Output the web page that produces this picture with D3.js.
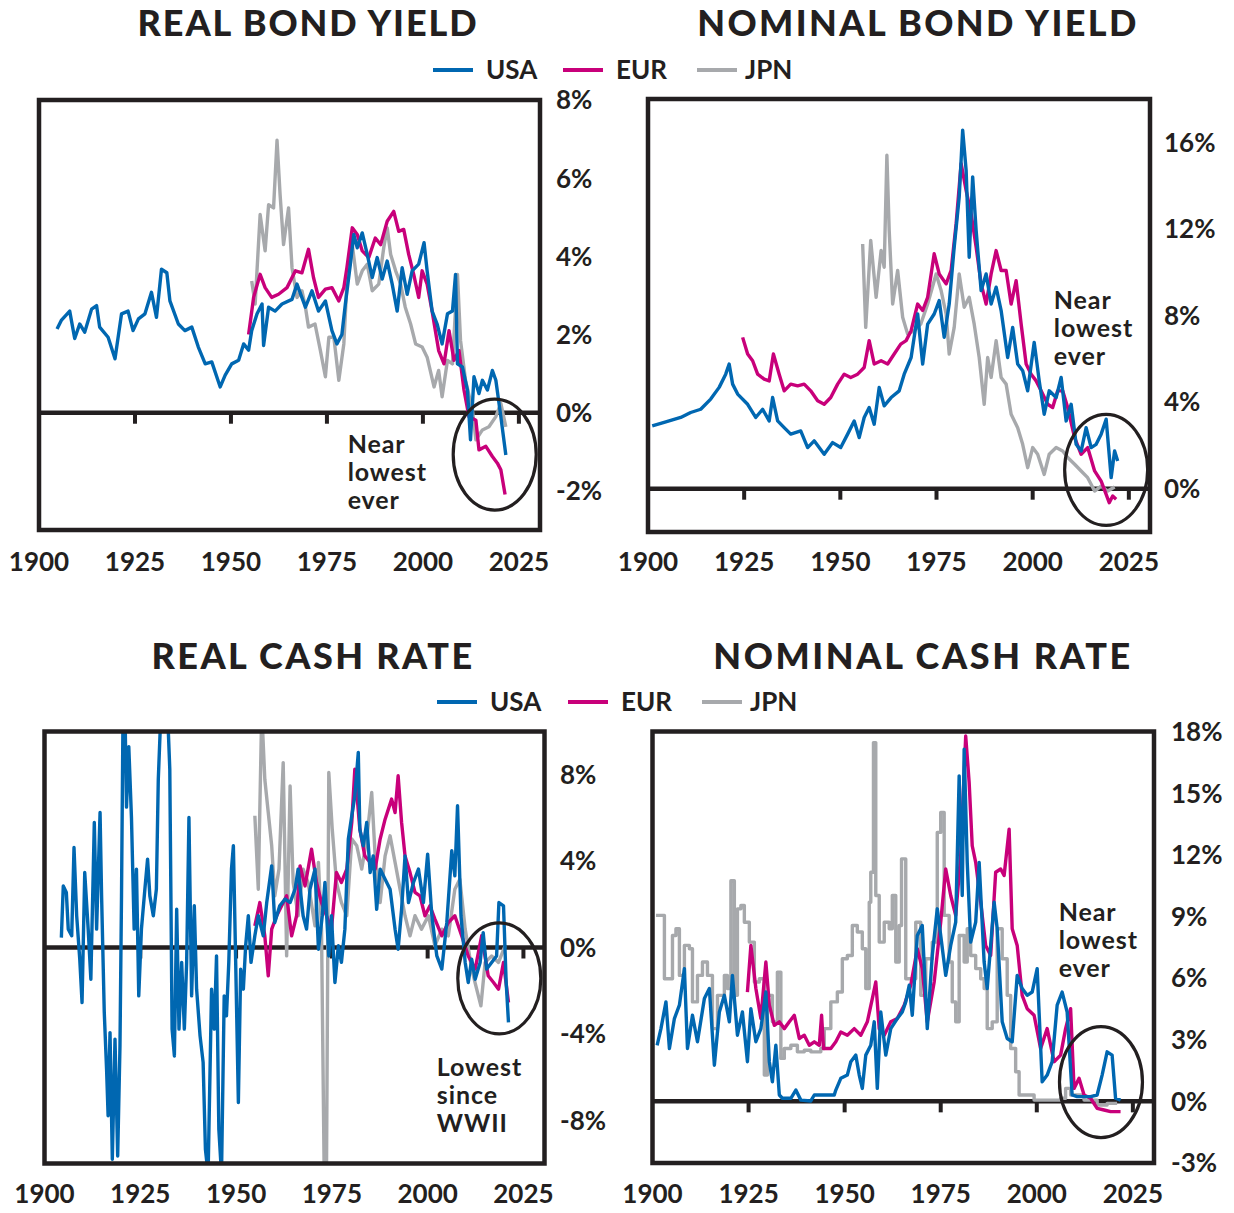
<!DOCTYPE html>
<html><head><meta charset="utf-8">
<script src="https://cdn.jsdelivr.net/npm/d3@7"></script>
<style>
html,body{margin:0;padding:0;background:#fff;}
svg{display:block;}
text{font-family:Lato,'Open Sans',sans-serif;fill:#231f20;}
</style></head><body>
<svg id="chart" width="1234" height="1213"></svg>
<script>
// ---------- DATA ----------
const seriesNames = ["USA","EUR","JPN"];
const xTickYears = [1925,1950,1975,2000,2025];
const xLabelYears = [1900,1925,1950,1975,2000,2025];
const realBondTicks = [-2,0,2,4,6,8];
const nomBondTicks = [0,4,8,12,16];
const realCashTicks = [-8,-4,0,4,8];
const nomCashTicks = [-3,0,3,6,9,12,15,18];

const realBondUSA = [[1904.7,2.14],[1905.8,2.36],[1908.0,2.6],[1909.3,1.9],[1910.6,2.27],[1911.9,2.06],[1913.7,2.65],[1915.0,2.74],[1915.8,2.19],[1918.0,1.93],[1919.8,1.38],[1921.5,2.53],[1923.2,2.6],[1924.5,2.1],[1925.9,2.4],[1927.6,2.53],[1929.3,3.08],[1930.6,2.44],[1931.9,3.67],[1933.3,3.58],[1934.1,2.86],[1936.3,2.27],[1938.0,2.1],[1939.8,2.19],[1941.5,1.68],[1943.3,1.25],[1945.0,1.3],[1947.2,0.66],[1948.5,0.96],[1950.2,1.25],[1952.0,1.34],[1953.3,1.76],[1954.6,1.6],[1955.4,2.1],[1956.8,2.53],[1958.1,2.78],[1958.5,1.72],[1959.8,2.7],[1961.5,2.6],[1963.3,2.78],[1965.9,2.9],[1967.2,3.29],[1969.4,2.7],[1971.1,3.12],[1972.8,2.6],[1974.6,2.86],[1976.3,2.1],[1977.6,1.76],[1978.9,2.0],[1979.8,2.78],[1981.1,3.8],[1982.0,4.56],[1982.9,4.22],[1984.2,4.6],[1985.5,4.05],[1986.8,3.46],[1988.1,3.97],[1989.4,3.42],[1990.7,3.88],[1992.0,3.29],[1993.3,2.6],[1994.6,3.71],[1995.9,3.03],[1997.2,3.63],[1998.9,3.8],[2000.3,4.35],[2001.1,3.63],[2002.4,2.6],[2003.7,2.27],[2005.0,1.76],[2006.4,2.53],[2007.7,2.6],[2008.5,3.54],[2009.0,1.25],[2010.3,1.17],[2011.6,0.58],[2012.4,-0.69],[2013.3,0.92],[2014.6,0.49],[2015.5,0.83],[2016.8,0.58],[2018.1,1.08],[2019.0,0.83],[2020.3,-0.1],[2021.6,-1.08]];
const realBondEUR = [[1954.6,2.0],[1955.9,2.95],[1957.6,3.54],[1958.9,3.2],[1960.6,2.95],[1962.4,3.03],[1964.6,3.2],[1966.8,3.63],[1968.5,3.58],[1970.2,4.18],[1971.5,3.46],[1972.8,2.95],[1974.6,3.16],[1976.3,3.2],[1978.1,2.86],[1979.4,3.2],[1980.2,3.71],[1981.6,4.73],[1982.9,4.56],[1984.2,4.14],[1985.9,3.97],[1987.6,4.47],[1989.0,4.3],[1990.7,4.9],[1992.4,5.15],[1993.7,4.64],[1995.0,4.69],[1996.3,4.05],[1997.6,3.54],[1998.9,2.95],[1999.8,3.63],[2001.1,3.29],[2002.4,2.6],[2004.1,1.59],[2005.5,1.25],[2006.8,2.1],[2008.1,1.34],[2009.4,1.59],[2010.7,0.58],[2012.0,-0.1],[2013.8,-0.19],[2014.6,-0.95],[2016.4,-0.86],[2018.1,-1.12],[2019.4,-1.29],[2020.3,-1.46],[2021.4,-2.09]];
const realBondJPN = [[1955.4,3.37],[1956.3,2.78],[1957.6,5.07],[1958.9,4.14],[1959.8,5.32],[1961.1,5.24],[1962.0,6.97],[1962.8,5.58],[1963.7,4.3],[1965.0,5.24],[1965.9,3.71],[1967.2,2.95],[1968.5,3.12],[1969.4,2.7],[1970.2,2.19],[1971.9,2.27],[1973.3,1.59],[1974.6,0.92],[1975.5,1.93],[1976.8,1.93],[1978.1,0.83],[1979.4,1.76],[1980.2,3.29],[1981.6,4.3],[1982.9,3.29],[1984.2,3.63],[1985.5,3.8],[1986.8,3.12],[1988.5,3.29],[1989.8,4.22],[1990.7,4.73],[1991.6,4.05],[1992.9,3.63],[1994.2,3.29],[1995.4,2.7],[1996.8,2.27],[1998.1,1.76],[1999.8,1.68],[2001.1,1.42],[2002.9,0.66],[2004.1,1.08],[2005.0,0.41],[2006.4,1.34],[2007.7,1.25],[2009.0,3.54],[2009.8,1.85],[2011.1,0.83],[2012.9,0.07],[2013.8,-0.69],[2015.5,-0.44],[2017.2,-0.36],[2019.0,-0.1],[2020.3,0.24],[2021.6,-0.36]];

const nomBondUSA = [[1901.1,2.9],[1904.2,3.06],[1908.5,3.29],[1911.1,3.52],[1913.7,3.67],[1916.3,4.14],[1918.5,4.68],[1920.2,5.29],[1921.1,5.76],[1922.0,4.83],[1923.3,4.37],[1925.9,3.9],[1928.0,3.29],[1929.8,3.67],[1931.5,3.13],[1932.4,4.21],[1933.7,3.13],[1935.4,2.82],[1937.1,2.52],[1939.7,2.67],[1941.5,1.9],[1943.2,2.21],[1945.8,1.59],[1948.0,2.13],[1950.1,1.9],[1951.9,2.52],[1953.6,3.13],[1954.9,2.36],[1956.2,3.29],[1957.5,3.75],[1958.8,2.98],[1960.1,4.68],[1961.4,3.83],[1963.2,4.21],[1965.3,4.52],[1966.6,5.29],[1968.4,6.06],[1970.1,8.07],[1971.4,5.76],[1972.7,7.6],[1974.4,8.07],[1975.7,8.69],[1977.0,6.99],[1978.3,8.53],[1979.6,11.16],[1980.9,13.47],[1981.8,16.56],[1982.7,14.71],[1983.5,10.69],[1984.4,14.4],[1985.3,11.93],[1986.6,9.15],[1987.9,9.92],[1989.2,8.53],[1990.5,9.31],[1991.8,8.23],[1993.5,6.06],[1994.8,7.45],[1996.1,5.76],[1997.4,5.45],[1998.7,4.52],[2000.4,6.76],[2001.7,4.98],[2003.0,3.44],[2004.3,4.52],[2006.1,4.21],[2007.4,5.14],[2008.7,3.13],[2010.0,3.9],[2011.3,2.05],[2012.6,1.74],[2013.9,2.82],[2015.2,1.9],[2016.5,2.05],[2017.8,2.52],[2019.1,3.21],[2020.4,0.51],[2021.3,1.74],[2022.1,1.28]];
const nomBondEUR = [[1924.6,6.99],[1925.9,6.22],[1927.2,5.91],[1928.5,5.29],[1930.2,5.06],[1931.5,4.98],[1932.6,6.22],[1934.1,5.29],[1935.4,4.52],[1937.1,4.83],[1938.9,4.75],[1940.6,4.83],[1942.3,4.52],[1944.1,4.06],[1945.8,3.9],[1947.5,4.21],[1949.3,4.83],[1951.0,5.29],[1952.7,5.14],[1954.5,5.29],[1956.2,5.6],[1957.5,6.84],[1958.8,5.76],[1960.6,5.91],[1962.3,5.76],[1964.0,6.22],[1965.7,6.68],[1967.1,6.84],[1968.4,7.3],[1970.1,8.53],[1971.4,8.23],[1972.7,8.84],[1974.4,10.85],[1975.7,9.92],[1977.5,9.46],[1978.8,10.08],[1980.1,12.24],[1981.4,15.02],[1982.7,13.78],[1984.0,12.7],[1985.3,11.16],[1986.6,9.46],[1987.9,8.53],[1989.2,9.92],[1990.5,11.0],[1991.8,10.08],[1993.1,10.08],[1994.4,8.53],[1995.7,9.61],[1997.0,7.61],[1998.3,5.76],[1999.6,5.29],[2000.9,4.98],[2002.2,4.52],[2003.9,3.9],[2005.2,3.75],[2006.5,4.52],[2007.8,4.52],[2009.1,3.75],[2010.9,2.36],[2012.6,1.59],[2014.3,1.9],[2016.1,0.82],[2017.8,0.35],[2019.1,-0.26],[2019.9,-0.65],[2020.8,-0.34],[2021.7,-0.49]];
const nomBondJPN = [[1955.8,11.3],[1956.6,7.45],[1957.9,11.47],[1959.3,8.84],[1960.6,11.0],[1961.4,10.23],[1962.1,15.4],[1962.7,11.93],[1963.6,8.53],[1964.9,10.08],[1966.2,7.92],[1967.5,7.14],[1969.2,7.3],[1970.9,7.6],[1972.7,8.53],[1974.9,9.92],[1976.2,9.15],[1977.5,8.07],[1978.3,6.22],[1979.6,7.45],[1980.9,9.92],[1982.2,8.38],[1983.5,8.84],[1984.8,7.6],[1986.1,6.06],[1987.4,3.9],[1988.3,6.06],[1989.2,5.14],[1990.5,6.84],[1991.8,5.14],[1993.1,4.83],[1994.4,3.44],[1996.1,2.82],[1997.4,2.05],[1998.7,0.97],[2000.0,1.9],[2001.3,1.59],[2003.0,0.66],[2004.3,1.59],[2006.1,1.9],[2007.8,1.74],[2009.1,1.44],[2010.9,1.13],[2012.6,0.82],[2014.3,0.51],[2016.1,-0.11],[2017.8,0.12],[2019.5,-0.11],[2021.3,0.08]];

const realCashUSA = [[1904.4,0.46],[1904.9,2.85],[1905.7,2.55],[1906.2,0.85],[1907.1,0.54],[1907.7,4.63],[1908.4,1.47],[1909.2,-0.54],[1909.8,-2.55],[1910.5,3.47],[1911.4,0.85],[1912.1,-1.47],[1913.0,5.79],[1913.6,0.85],[1914.5,6.25],[1914.9,2.39],[1915.6,-3.0],[1916.2,-5.63],[1916.6,-7.79],[1917.1,-3.94],[1917.7,-9.8],[1918.4,-4.24],[1919.1,-9.65],[1919.7,-4.55],[1920.1,2.39],[1920.5,11],[1921.0,11],[1921.4,6.5],[1922.0,9.3],[1922.7,6.0],[1923.4,0.85],[1924.0,3.63],[1924.6,-2.24],[1925.3,0.85],[1926.2,2.7],[1926.9,4.09],[1927.5,2.39],[1928.4,1.47],[1929.2,2.7],[1929.7,7.79],[1930.4,11],[1931.4,12],[1932.1,11],[1932.7,8.26],[1933.3,-3.78],[1933.9,-5.02],[1934.5,1.77],[1935.1,-3.78],[1935.8,-0.69],[1936.5,-3.78],[1937.1,-0.69],[1937.7,6.02],[1938.4,-2.24],[1939.1,1.93],[1939.7,-1.93],[1940.6,-4.09],[1941.4,-5.32],[1942.0,-9.34],[1942.7,-10.5],[1943.6,-1.93],[1944.3,-3.78],[1944.9,-0.39],[1945.5,-8.41],[1946.2,-10.5],[1946.9,-2.24],[1947.5,-3.16],[1948.1,-0.69],[1948.8,3.63],[1949.3,4.71],[1949.9,-0.69],[1950.6,-7.18],[1951.2,-1.0],[1951.9,-1.93],[1952.5,0.08],[1953.2,1.47],[1953.9,-0.69],[1954.9,0.54],[1955.8,1.47],[1957.1,0.54],[1958.0,2.08],[1959.3,3.78],[1960.1,1.16],[1961.4,1.93],[1962.8,2.24],[1964.1,2.08],[1965.4,2.7],[1966.2,3.63],[1967.5,1.47],[1968.4,0.85],[1969.3,2.7],[1970.6,3.63],[1971.5,-0.08],[1972.5,1.47],[1973.2,3.01],[1974.2,-0.39],[1974.9,1.47],[1975.8,-1.62],[1976.7,0.08],[1977.5,-0.69],[1978.4,0.85],[1979.3,5.02],[1980.2,6.1],[1981.0,7.02],[1981.9,9.03],[1982.3,5.48],[1983.2,4.71],[1984.1,5.79],[1985.0,3.47],[1985.8,4.24],[1986.7,1.77],[1987.6,3.63],[1988.9,3.16],[1990.2,2.7],[1991.5,0.85],[1992.3,-0.08],[1993.2,1.77],[1994.1,4.24],[1995.0,2.08],[1996.3,3.01],[1997.6,3.63],[1998.9,2.08],[2000.0,4.32],[2001.1,1.47],[2002.4,-0.39],[2003.7,-1.0],[2005.0,1.16],[2006.3,4.48],[2007.1,3.32],[2007.8,6.56],[2008.7,1.47],[2009.8,-0.69],[2010.6,-1.62],[2011.5,-0.54],[2012.4,-1.47],[2013.7,-0.69],[2014.5,0.69],[2015.4,-1.0],[2016.7,-0.69],[2018.0,-0.39],[2018.6,2.08],[2019.8,1.93],[2020.5,-1.62],[2021.1,-3.47]];
const realCashEUR = [[1954.9,1.0],[1956.2,2.08],[1957.5,0.54],[1958.4,-1.31],[1959.3,0.85],[1960.6,1.47],[1961.9,1.93],[1963.2,2.39],[1964.5,0.54],[1965.8,1.47],[1966.7,3.78],[1968.0,2.85],[1969.7,4.55],[1971.0,3.01],[1972.3,2.08],[1973.6,1.47],[1974.9,0.85],[1976.2,3.47],[1977.5,3.01],[1978.9,3.63],[1980.2,5.79],[1981.0,8.26],[1982.3,5.48],[1983.6,4.24],[1985.0,3.94],[1986.3,3.63],[1987.6,5.02],[1988.9,5.94],[1990.6,6.87],[1991.5,6.25],[1992.3,7.95],[1993.2,5.79],[1994.1,4.24],[1995.4,3.47],[1996.7,2.55],[1998.0,2.39],[1999.3,1.47],[2000.6,1.93],[2001.9,1.31],[2003.7,0.54],[2005.4,1.16],[2007.1,1.47],[2008.9,0.54],[2010.6,-0.39],[2012.4,-1.0],[2014.1,0.54],[2015.8,-1.31],[2017.2,-1.62],[2018.5,-1.93],[2019.8,-0.69],[2021.1,-2.55]];
const realCashJPN = [[1954.9,6.1],[1955.8,2.7],[1956.7,11],[1957.5,7.79],[1958.4,6.25],[1959.3,4.71],[1960.1,2.39],[1961.2,3.63],[1962.3,8.56],[1963.2,-0.39],[1964.1,7.48],[1964.9,3.01],[1966.2,1.47],[1967.5,3.63],[1968.8,3.01],[1970.6,1.0],[1971.5,3.94],[1972.3,0.85],[1973.0,-10.5],[1973.6,-10.5],[1974.2,8.1],[1975.1,5.48],[1976.2,3.01],[1977.5,2.08],[1978.9,1.47],[1980.2,5.02],[1981.5,4.71],[1982.8,3.63],[1984.1,5.02],[1985.4,7.18],[1986.3,4.24],[1987.6,2.08],[1988.9,4.24],[1990.2,5.17],[1991.5,3.94],[1992.8,2.7],[1994.1,1.47],[1995.4,0.54],[1996.7,1.47],[1998.4,0.85],[2000.2,1.47],[2001.9,0.08],[2003.7,0.85],[2005.4,0.54],[2007.1,2.7],[2008.4,3.16],[2009.8,0.85],[2011.5,-1.0],[2012.8,-1.93],[2013.9,-2.7],[2015.0,-0.69],[2016.7,-0.39],[2018.5,-0.69],[2020.2,0.08]];

const nomCashUSA = [[1901.2,2.73],[1902.2,3.54],[1903.5,4.84],[1904.4,2.57],[1905.7,4.03],[1907.0,4.68],[1908.3,6.46],[1909.1,2.57],[1910.4,4.19],[1911.7,2.9],[1913.5,5.0],[1914.8,5.49],[1916.1,1.76],[1917.4,4.35],[1918.7,5.16],[1920.0,3.87],[1920.8,6.13],[1922.1,3.22],[1923.4,4.35],[1924.7,1.93],[1925.6,4.51],[1926.9,2.9],[1928.2,3.54],[1929.5,5.32],[1930.4,1.93],[1931.2,0.95],[1932.1,2.73],[1933.0,0.31],[1933.8,0.15],[1936.0,0.15],[1937.3,0.55],[1938.6,0.06],[1941.2,0.02],[1942.1,0.31],[1947.3,0.31],[1947.7,0.55],[1949.0,1.12],[1950.7,1.28],[1951.6,1.93],[1952.9,2.25],[1953.8,1.28],[1954.6,0.63],[1955.5,2.25],[1956.8,2.73],[1957.7,3.87],[1958.5,0.63],[1959.4,4.35],[1960.7,2.25],[1962.0,3.54],[1963.7,4.03],[1965.0,4.35],[1965.9,4.84],[1966.8,5.65],[1967.6,4.19],[1968.9,8.07],[1970.2,8.56],[1971.5,3.54],[1972.8,7.1],[1974.1,9.37],[1975.0,8.07],[1976.3,6.13],[1977.6,7.59],[1978.9,8.72],[1979.8,15.84],[1980.6,10.02],[1981.1,17.14],[1981.9,11.63],[1982.8,7.75],[1984.1,8.72],[1985.0,11.63],[1986.3,6.78],[1987.1,5.49],[1988.0,7.59],[1988.9,9.69],[1989.7,8.4],[1991.0,3.87],[1992.3,3.06],[1993.6,2.9],[1994.9,6.13],[1996.2,5.49],[1997.5,5.16],[1998.8,5.32],[2000.1,6.46],[2001.4,0.95],[2002.7,1.28],[2004.0,1.93],[2005.3,4.68],[2006.6,5.32],[2007.9,4.35],[2009.2,0.31],[2010.5,0.23],[2014.0,0.23],[2015.7,0.31],[2017.0,1.28],[2018.3,2.41],[2019.6,2.25],[2020.5,0.15],[2021.8,0.06]];
const nomCashEUR = [[1924.7,5.32],[1925.6,7.59],[1926.9,5.49],[1928.2,4.03],[1929.5,6.78],[1930.4,4.68],[1931.7,3.7],[1933.0,3.87],[1934.3,3.54],[1935.6,3.87],[1936.9,4.19],[1938.2,3.06],[1939.5,3.22],[1940.8,2.73],[1942.1,2.9],[1943.4,2.73],[1944.0,4.19],[1944.5,2.57],[1946.4,2.57],[1947.7,2.9],[1949.0,3.38],[1950.7,3.22],[1952.5,3.54],[1954.2,3.22],[1955.9,3.87],[1957.2,5.0],[1958.1,5.81],[1959.0,3.54],[1960.3,3.22],[1962.0,3.87],[1963.7,4.03],[1965.5,4.68],[1967.2,5.65],[1968.9,7.43],[1970.2,6.46],[1971.5,3.87],[1973.3,5.81],[1975.0,8.72],[1976.3,11.31],[1977.6,10.02],[1978.9,9.05],[1980.2,11.96],[1981.5,17.78],[1982.4,15.52],[1983.2,12.44],[1984.1,11.63],[1985.4,9.69],[1986.7,7.59],[1988.0,7.1],[1989.3,11.15],[1990.6,11.31],[1991.5,10.99],[1992.8,13.25],[1993.6,8.4],[1994.9,7.59],[1996.2,5.16],[1997.5,4.51],[1999.3,4.19],[2001.0,2.57],[2002.7,3.54],[2004.5,1.93],[2006.2,2.25],[2007.5,3.54],[2008.8,4.51],[2009.7,0.63],[2011.0,1.12],[2012.3,0.31],[2014.0,0.15],[2015.7,-0.34],[2017.5,-0.42],[2019.2,-0.5],[2021.8,-0.5]];
const nomCashJPN = [[1900.9,9.05],[1902.2,9.05],[1903.1,5.97],[1904.4,5.97],[1905.2,8.07],[1906.1,8.4],[1907.0,6.13],[1908.3,7.59],[1909.6,7.43],[1910.4,4.84],[1911.7,6.13],[1913.0,6.78],[1914.3,6.13],[1915.6,3.54],[1916.9,5.16],[1918.7,6.13],[1919.5,5.49],[1920.4,10.74],[1921.3,5.16],[1922.1,9.37],[1923.0,9.53],[1923.9,8.72],[1925.2,7.75],[1926.5,5.81],[1927.8,5.97],[1929.1,1.28],[1929.9,5.16],[1931.2,3.87],[1932.5,6.29],[1933.4,2.09],[1934.3,2.57],[1936.0,2.73],[1937.7,2.41],[1939.5,2.49],[1941.2,2.41],[1943.8,2.57],[1944.7,3.54],[1946.4,4.84],[1948.1,5.32],[1949.4,6.94],[1950.7,7.1],[1952.0,8.56],[1953.3,8.24],[1954.6,7.43],[1955.5,5.49],[1956.4,9.69],[1956.8,11.15],[1957.5,17.46],[1958.1,10.02],[1959.0,7.75],[1960.3,8.72],[1961.6,8.4],[1962.4,10.02],[1963.3,6.78],[1964.2,8.56],[1964.8,11.8],[1965.9,5.97],[1967.2,5.97],[1968.5,8.72],[1969.8,5.16],[1971.1,6.94],[1972.8,7.75],[1974.1,13.09],[1975.0,14.06],[1975.9,9.05],[1977.2,6.78],[1978.0,4.84],[1978.9,3.87],[1979.8,8.07],[1981.1,6.78],[1981.9,8.4],[1982.8,7.1],[1984.1,6.46],[1985.4,5.97],[1986.3,5.49],[1987.1,3.54],[1988.4,3.87],[1989.7,8.4],[1991.0,6.94],[1992.3,5.16],[1993.2,2.57],[1994.5,1.44],[1995.4,0.31],[1997.5,0.31],[1999.3,0.06],[2003.6,0.06],[2006.2,0.15],[2007.5,0.63],[2008.8,0.31],[2012.3,0.06],[2015.7,-0.18],[2018.3,-0.1],[2020.9,-0.1]];

// annotations (data units: [year, value] of first text baseline) and circles ([year, value])
const realBondNote = {lines:["Near","lowest","ever"], at:[1980.4,-1.04]};
const nomBondNote = {lines:["Near","lowest","ever"], at:[2005.5,8.31]};
const realCashNote = {lines:["Lowest","since","WWII"], at:[2002.4,-5.95]};
const nomCashNote = {lines:["Near","lowest","ever"], at:[2005.7,8.79]};
const realBondCircle = [2018.7,-1.07];
const nomBondCircle = [2019.1,0.87];
const realCashCircle = [2018.7,-1.43];
const nomCashCircle = [2016.7,0.94];

// ---------- DRAW ----------
const INK = "#231f20";
const COLORS = {USA:"#0067b1", EUR:"#c8007a", JPN:"#a7a9ac"};
const svg = d3.select("#chart");

const panels = [
  {title:"REAL BOND YIELD", box:[39,100,540,530], yDomain:[-3,8], yTicks:realBondTicks,
   data:{USA:realBondUSA,EUR:realBondEUR,JPN:realBondJPN}, labelX:556, titleX:308, titleY:36, xLabY:571,
   note:realBondNote, circle:realBondCircle, ls:1.9},
  {title:"NOMINAL BOND YIELD", box:[648,99,1150,532], yDomain:[-2,18], yTicks:nomBondTicks,
   data:{USA:nomBondUSA,EUR:nomBondEUR,JPN:nomBondJPN}, labelX:1164, titleX:918, titleY:36, xLabY:571,
   note:nomBondNote, circle:nomBondCircle, ls:2.4},
  {title:"REAL CASH RATE", box:[44.5,731.5,544.5,1163.5], yDomain:[-10,10], yTicks:realCashTicks,
   data:{USA:realCashUSA,EUR:realCashEUR,JPN:realCashJPN}, labelX:560, titleX:313, titleY:669, xLabY:1203,
   note:realCashNote, circle:realCashCircle, ls:2.4},
  {title:"NOMINAL CASH RATE", box:[652.5,731.5,1154,1163], yDomain:[-3,18], yTicks:nomCashTicks,
   data:{USA:nomCashUSA,EUR:nomCashEUR,JPN:nomCashJPN}, labelX:1171, titleX:923, titleY:669, xLabY:1203,
   note:nomCashNote, circle:nomCashCircle, ls:2.6}
];

const defs = svg.append("defs");

panels.forEach((p,i)=>{
  const [l,t,r,b] = p.box;
  const x = d3.scaleLinear().domain([1900,2030.5]).range([l,r]);
  const y = d3.scaleLinear().domain(p.yDomain).range([b,t]);
  const g = svg.append("g");

  // title
  g.append("text").attr("x",p.titleX).attr("y",p.titleY).attr("text-anchor","middle")
    .attr("font-size",36).attr("font-weight",900).attr("letter-spacing",p.ls).text(p.title);

  // clip
  defs.append("clipPath").attr("id","clip"+i).append("rect")
    .attr("x",l).attr("y",t).attr("width",r-l).attr("height",b-t);

  // zero line & ticks
  g.append("line").attr("x1",l).attr("x2",r).attr("y1",y(0)).attr("y2",y(0))
    .attr("stroke",INK).attr("stroke-width",4.5);
  g.selectAll(".xt").data(xTickYears).join("line")
    .attr("x1",d=>x(d)).attr("x2",d=>x(d)).attr("y1",y(0)).attr("y2",y(0)+11)
    .attr("stroke",INK).attr("stroke-width",4);

  // series
  const lg = g.append("g").attr("clip-path",`url(#clip${i})`);
  ["JPN","EUR","USA"].forEach(k=>{
    const stepped = (i===3 && k==="JPN");
    const line = d3.line().x(d=>x(d[0])).y(d=>y(d[1]))
      .curve(stepped ? d3.curveStepAfter : d3.curveLinear);
    lg.append("path").datum(p.data[k]).attr("d",line).attr("fill","none")
      .attr("stroke",COLORS[k]).attr("stroke-width",3.4).attr("stroke-linejoin","round");
  });

  // frame
  g.append("rect").attr("x",l).attr("y",t).attr("width",r-l).attr("height",b-t)
    .attr("fill","none").attr("stroke",INK).attr("stroke-width",4.5);

  // y labels
  g.selectAll(".yl").data(p.yTicks).join("text")
    .attr("x",p.labelX).attr("y",d=>y(d)).attr("dy","0.36em")
    .attr("font-size",26).attr("font-weight",700).text(d=>d+"%");

  // x labels
  g.selectAll(".xl").data(xLabelYears).join("text")
    .attr("x",d=>x(d)).attr("y",p.xLabY).attr("text-anchor","middle")
    .attr("font-size",26).attr("font-weight",700).text(d=>d);

  // note (one text per line)
  p.note.lines.forEach((s,j)=>{
    g.append("text").attr("x",x(p.note.at[0])).attr("y",y(p.note.at[1])+j*28)
      .attr("font-size",25).attr("font-weight",700).attr("letter-spacing",0.9).text(s);
  });

  // circle
  g.append("ellipse").attr("cx",x(p.circle[0])).attr("cy",y(p.circle[1]))
    .attr("rx",41.5).attr("ry",55.5).attr("fill","none").attr("stroke",INK).attr("stroke-width",3.2);
});

// legends
function legend(x0, yc, gaps){
  const g = svg.append("g");
  let xx = x0;
  seriesNames.forEach((k,j)=>{
    g.append("line").attr("x1",xx).attr("x2",xx+40).attr("y1",yc).attr("y2",yc)
      .attr("stroke",COLORS[k]).attr("stroke-width",4);
    g.append("text").attr("x",xx+(k==="JPN"?48:53)).attr("y",yc).attr("dy","0.36em")
      .attr("font-size",26).attr("font-weight",700).text(k);
    xx += gaps[j];
  });
}
legend(433, 70, [130,134]);
legend(437, 702, [131,134]);
</script>
</body></html>
